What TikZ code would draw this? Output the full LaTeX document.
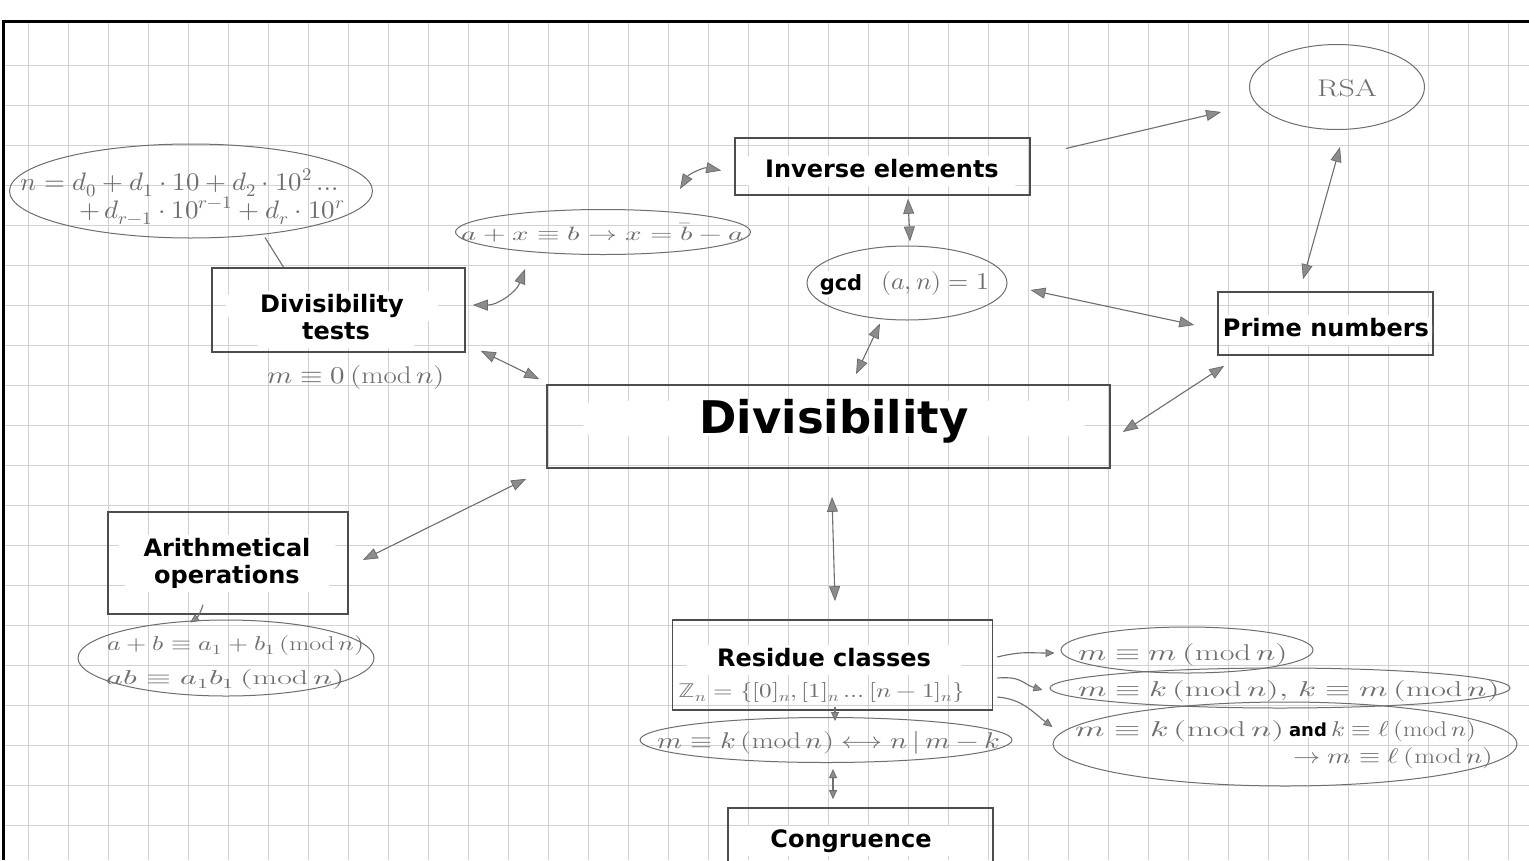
\documentclass[tikz,border=0pt]{standalone}
\usepackage{graphicx}
\usepackage{unicode-math}
\setmathfont{Latin Modern Math}
\newfontfamily\lbl{DejaVu Sans}
\usetikzlibrary{arrows.meta,calc,shapes.geometric}
\definecolor{pencil}{HTML}{6E6E6E}
\definecolor{gridc}{HTML}{D2D2D2}
\definecolor{boxc}{HTML}{4D4D4D}
\definecolor{tipc}{HTML}{8C8C8C}
\newcommand\hwfit[3]{\resizebox{#1pt}{#2pt}{$#3$}}
\tikzset{
  hd/.tip={Triangle[length=15pt,width=11pt,fill=tipc,line width=0.8pt]},
  sh/.tip={Triangle[length=9pt,width=8pt,fill=tipc,line width=0.8pt]},
  box/.style={draw=boxc,line width=1.6pt,rectangle,inner sep=0pt},
  oval/.style={ellipse,draw=pencil,line width=1pt,inner sep=0pt},
  lab/.style={fill=white,rounded corners=10pt,text=black,
    font=\lbl\bfseries\fontsize{24pt}{28pt}\selectfont,
    inner ysep=1pt,text height=20pt,text depth=8pt},
  hw/.style={text=pencil,inner sep=0pt,font=\fontsize{20pt}{24pt}\selectfont},
  link/.style={draw=pencil,line width=1.1pt,hd-hd},
  slink/.style={draw=pencil,line width=1.1pt,sh-sh},
  one/.style={draw=pencil,line width=1.1pt,-hd},
  sone/.style={draw=pencil,line width=1.1pt,-sh},
  plain/.style={draw=pencil,line width=1.1pt},
}
\begin{document}
\begin{tikzpicture}[x=1pt,y=-1pt]
\useasboundingbox (0,0) rectangle (1529,860);
\fill[white] (0,0) rectangle (1529,860);
% grid paper
\begin{scope}
\clip (3,21) rectangle (1529,860);
\foreach \x in {28,68,...,1508} \draw[gridc,line width=0.8pt] (\x,21) -- (\x,860);
\foreach \y in {65,105,...,825} \draw[gridc,line width=0.8pt] (3,\y) -- (1529,\y);
\end{scope}
\draw[black,line width=3pt] (3,860) -- (3,21) -- (1529,21);

% boxes
\node[box,minimum width=253pt,minimum height=84pt] (dtests) at (338.5,310) {};
\node[box,minimum width=295pt,minimum height=57pt] (inv) at (882.5,166.5) {};
\node[box,minimum width=215pt,minimum height=63pt] (prime) at (1325.5,323.5) {};
\node[box,minimum width=563pt,minimum height=83pt] (div) at (828.5,426.5) {};
\node[box,minimum width=240pt,minimum height=102pt] (arith) at (228,563) {};
\node[box,minimum width=320pt,minimum height=90pt] (resid) at (832.5,665) {};
\node[box,minimum width=265pt,minimum height=70pt] (cong) at (860.5,843) {};

% ovals
\node[oval,minimum width=363pt,minimum height=94pt] (formula) at (191,191) {};
\node[oval,minimum width=295pt,minimum height=45pt] (axb) at (603,232) {};
\node[oval,minimum width=200pt,minimum height=74pt] (gcd) at (907,283) {};
\node[oval,minimum width=175pt,minimum height=85pt] (rsa) at (1337,87) {};
\node[oval,minimum width=296pt,minimum height=76pt] (arithell) at (226,658) {};
\node[oval,minimum width=372pt,minimum height=45pt] (mk) at (826,740) {};
\node[oval,minimum width=252pt,minimum height=46pt] (e1) at (1187,650) {};
\node[oval,minimum width=460pt,minimum height=40pt] (e2) at (1280,688) {};
\node[oval,minimum width=464pt,minimum height=84pt] (e3) at (1285,744) {};

% labels
\node[lab,anchor=base,inner xsep=24pt] (invL) at (882,177) {Inverse elements};
\node[lab,anchor=base,inner xsep=3pt] (primeL) at (1326,336) {Prime numbers};
\node[lab,anchor=base,inner xsep=30pt] (residL) at (824,666) {Residue classes};
\node[lab,anchor=base,inner xsep=38pt] (congL) at (851,847) {Congruence};
\node[lab,anchor=base,inner xsep=34pt] (dtA) at (332,312) {Divisibility};
\node[lab,anchor=base,inner xsep=48pt] (dtB) at (336,339) {tests};
\node[lab,anchor=base,inner xsep=25pt] (arA) at (227,556) {Arithmetical};
\node[lab,anchor=base,inner xsep=30pt] (arB) at (227,583) {operations};
\node[lab,anchor=base,font=\lbl\bfseries\fontsize{21pt}{24pt}\selectfont,inner xsep=4pt,text height=18pt,text depth=6pt] (gcdL) at (841,290) {gcd};
\node[lab,anchor=base,font=\lbl\bfseries\fontsize{45pt}{50pt}\selectfont,inner xsep=116pt,text height=32pt,text depth=3pt,inner ysep=0pt] (divL) at (834,433) {Divisibility};

% handwritten texts
\node[hw,anchor=base] (f1) at (180,190) {\hwfit{318}{21}{n=d_0+d_1\cdot 10+d_2\cdot 10^2\ldots}};
\node[hw,anchor=base] (f2) at (212,218) {\hwfit{265}{21}{+\,d_{r-1}\cdot 10^{r-1}+d_r\cdot 10^r}};
\node[hw,anchor=base] (m0) at (356,383) {\hwfit{178}{18}{m\equiv 0\,(\mathrm{mod}\,n)}};
\node[hw,anchor=base] (axbT) at (603,240) {\hwfit{282}{17}{a+x\equiv b\rightarrow x=\bar{b}-a}};
\node[hw,anchor=base] (anT) at (935,289) {\hwfit{108}{18}{(a,n)=1}};
\node[hw,anchor=base] (rsaT) at (1347,96) {\hwfit{60}{17}{\mathrm{RSA}}};
\node[hw,anchor=base] (ar1) at (236,650) {\hwfit{257}{15}{a+b\equiv a_1+b_1\,(\mathrm{mod}\,n)}};
\node[hw,anchor=base] (ar2) at (226,684) {\hwfit{238}{15}{ab\equiv a_1b_1\,(\mathrm{mod}\,n)}};
\node[hw,anchor=base] (znT) at (822,697) {\hwfit{287}{15}{\mathbb{Z}_n=\{[0]_n,[1]_n\ldots[n-1]_n\}}};
\node[hw,anchor=base] (mkT) at (829,748) {\hwfit{342}{17}{m\equiv k\,(\mathrm{mod}\,n)\longleftrightarrow n\,|\,m-k}};
\node[hw,anchor=base] (e1T) at (1183,660) {\hwfit{210}{17}{m\equiv m\,(\mathrm{mod}\,n)}};
\node[hw,anchor=base] (e2T) at (1289,696) {\hwfit{422}{16}{m\equiv k\,(\mathrm{mod}\,n),\,k\equiv m\,(\mathrm{mod}\,n)}};
\node[hw,anchor=base] (e3a) at (1276,736) {\hwfit{209}{16}{m\equiv k\,(\mathrm{mod}\,n)}\,{\setlength{\fboxsep}{1pt}\colorbox{white}{\lbl\bfseries\fontsize{18pt}{20pt}\selectfont\color{black}and}}\,\hwfit{145}{16}{k\equiv \ell\,(\mathrm{mod}\,n)}};
\node[hw,anchor=base] (e3b) at (1393,763) {\hwfit{200}{16}{\rightarrow m\equiv \ell\,(\mathrm{mod}\,n)}};

% connectors
\draw[plain] ($(formula.south)+(74,-1)$) -- ($(dtests.north)+(-55,0)$);
\draw[link] ($(dtests.east)+(7,-5)$) to[bend right=35] ($(axb.south)+(-78,14)$);
\draw[link] ($(axb.north)+(77,-20)$) to[bend left=35] ($(inv.west)+(-13,4)$);
\draw[link] ($(inv.south)+(25.5,3)$) -- ($(gcd.north)+(3,-4)$);
\draw[link] ($(gcd.south)+(-27,3)$) -- ($(div.north)+(27.5,-10)$);
\draw[link] ($(gcd.east)+(23,7)$) -- ($(prime.west)+(-23,1.5)$);
\draw[one] ($(inv.east)+(35,-18)$) -- ($(rsa.west)+(-28,25)$);
\draw[link] ($(rsa.south)+(3,17)$) -- ($(prime.north)+(-22.5,-12)$);
\draw[link] ($(dtests.south east)+(15,-2)$) -- ($(div.north west)+(-7,-5)$);
\draw[link] ($(prime.south west)+(7,10)$) -- ($(div.east)+(12,5.5)$);
\draw[link] ($(div.south west)+(-20,10)$) -- ($(arith.east)+(14,-3)$);
\draw[sone] ($(arith.south)+(-25,-10)$) to[bend left=20] ($(arithell.north)+(-36,3)$);
\draw[link] ($(div.south)+(3.5,28)$) -- ($(resid.north)+(2.5,-18)$);
\draw[sone] ($(resid.south)+(2.5,-4)$) -- ($(mk.north)+(9,4)$);
\draw[slink] ($(mk.south)+(7,6)$) -- ($(cong.north)+(-27.5,-8)$);
\draw[sone] ($(resid.east)+(4,-8)$) .. controls +(25,-6) and +(-25,0) .. ($(e1.west)+(-6,3)$);
\draw[sone] ($(resid.east)+(4,13)$) .. controls +(25,-2) and +(-20,-6) .. ($(e2.west)+(-7,2)$);
\draw[sone] ($(resid.east)+(4,32)$) .. controls +(25,2) and +(-20,-15) .. ($(e3.west)+(0,-17)$);
\end{tikzpicture}
\end{document}
